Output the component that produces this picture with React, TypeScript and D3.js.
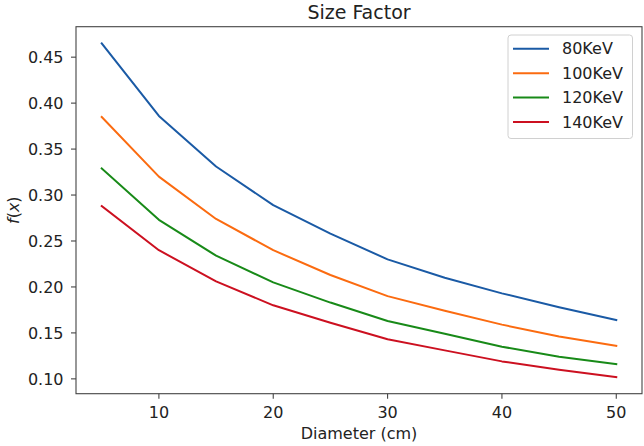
import React from "react";
import * as d3 from "d3";

const diameters = [5, 10, 15, 20, 25, 30, 35, 40, 45, 50];
const seriesNames = ["80KeV", "100KeV", "120KeV", "140KeV"];
const kev80 = [0.465, 0.386, 0.331, 0.289, 0.258, 0.230, 0.210, 0.193, 0.178, 0.164];
const kev100 = [0.385, 0.320, 0.274, 0.240, 0.213, 0.190, 0.174, 0.159, 0.146, 0.136];
const kev120 = [0.329, 0.273, 0.234, 0.205, 0.183, 0.163, 0.149, 0.135, 0.124, 0.116];
const kev140 = [0.288, 0.240, 0.206, 0.180, 0.161, 0.143, 0.131, 0.119, 0.110, 0.102];
const xTicks = [10, 20, 30, 40, 50];
const yTicks = [0.10, 0.15, 0.20, 0.25, 0.30, 0.35, 0.40, 0.45];
const colors = ["#1a5aa5", "#fb6b10", "#188a18", "#cc1020"];

const W = 644, H = 446;
const L = 76, R = 642, T = 26.7, B = 393.7;
const FONT = "DejaVu Sans, sans-serif";

export default function App() {
  const allSeries = [kev80, kev100, kev120, kev140];
  const xs = d3.scaleLinear().domain([2.75, 52.25]).range([L, R]);
  const ymin = d3.min(allSeries.flat())!;
  const ymax = d3.max(allSeries.flat())!;
  const pad = (ymax - ymin) * 0.05;
  const ys = d3.scaleLinear().domain([ymin - pad, ymax + pad]).range([B, T]);
  const line = d3.line<number>().x((_, i) => xs(diameters[i])).y((d) => ys(d));
  const textColor = "#222";
  const axisColor = "#444";
  return (
    <svg width={W} height={H} style={{ position: "absolute", left: 0, top: 0, background: "#fff" }} fontFamily={FONT}>
      <rect x={0} y={0} width={W} height={H} fill="#fff" />
      {allSeries.map((s, i) => (
        <path key={i} d={line(s)!} fill="none" stroke={colors[i]} strokeWidth={2} strokeLinejoin="round" strokeLinecap="square" />
      ))}
      <rect x={L} y={T} width={R - L} height={B - T} fill="none" stroke={axisColor} strokeWidth={1.1} />
      {xTicks.map((t) => (
        <g key={t}>
          <line x1={xs(t)} x2={xs(t)} y1={B} y2={B + 5} stroke={axisColor} strokeWidth={1.1} />
          <text x={xs(t)} y={417.5} textAnchor="middle" fontSize={16} fill={textColor}>{t}</text>
        </g>
      ))}
      {yTicks.map((t) => (
        <g key={t}>
          <line x1={L - 5} x2={L} y1={ys(t)} y2={ys(t)} stroke={axisColor} strokeWidth={1.1} />
          <text x={63.5} y={ys(t)} dy="0.36em" textAnchor="end" fontSize={16} fill={textColor}>{t.toFixed(2)}</text>
        </g>
      ))}
      <text x={(L + R) / 2} y={18.5} textAnchor="middle" fontSize={19} fill={textColor}>Size Factor</text>
      <text x={(L + R) / 2} y={439} textAnchor="middle" fontSize={16} fill={textColor}>Diameter (cm)</text>
      <text transform={`translate(18.5, ${(T + B) / 2}) rotate(-90)`} textAnchor="middle" fontSize={16} fill={textColor}>
        <tspan fontStyle="italic">f</tspan>
        <tspan>(</tspan>
        <tspan fontStyle="italic">x</tspan>
        <tspan>)</tspan>
      </text>
      <rect x={508} y={35} width={124.5} height={103.5} rx={3} fill="#fff" fillOpacity={0.8} stroke="#d0d0d0" strokeWidth={1} />
      {seriesNames.map((n, i) => {
        const yy = 48.7 + i * 24.45;
        return (
          <g key={n}>
            <line x1={513} x2={549} y1={yy} y2={yy} stroke={colors[i]} strokeWidth={2} />
            <text x={562} y={yy} dy="0.36em" fontSize={16} fill={textColor}>{n}</text>
          </g>
        );
      })}
    </svg>
  );
}
